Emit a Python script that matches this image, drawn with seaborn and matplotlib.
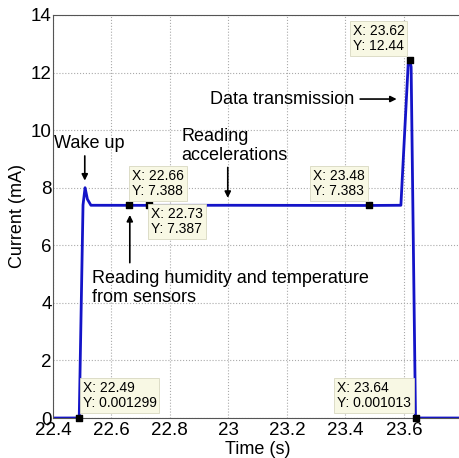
import matplotlib
matplotlib.use("Agg")
import matplotlib.pyplot as plt
import seaborn as sns
import pandas as pd

time_s = [22.40, 22.49, 22.503, 22.51, 22.518, 22.53, 22.66, 22.73, 23.00, 23.48, 23.59, 23.615, 23.62, 23.625, 23.64, 23.80]
current_ma = [0.0, 0.001299, 7.4, 8.0, 7.6, 7.39, 7.388, 7.387, 7.39, 7.383, 7.39, 12.3, 12.44, 12.2, 0.001013, 0.0]

tip_x = [22.49, 22.66, 22.73, 23.48, 23.62, 23.64]
tip_y = [0.001299, 7.388, 7.387, 7.383, 12.44, 0.001013]
tip_text = ["X: 22.49\nY: 0.001299", "X: 22.66\nY: 7.388", "X: 22.73\nY: 7.387",
            "X: 23.48\nY: 7.383", "X: 23.62\nY: 12.44", "X: 23.64\nY: 0.001013"]

sns.set_theme(style="whitegrid")
plt.rcParams['font.family'] = ['Liberation Sans', 'DejaVu Sans']
plt.rcParams['text.color'] = 'black'
plt.rcParams['axes.labelcolor'] = 'black'
plt.rcParams['xtick.color'] = 'black'
plt.rcParams['ytick.color'] = 'black'

fig = plt.figure(figsize=(4.6, 4.58), dpi=100)
ax = fig.add_axes([0.115, 0.0873, 0.890, 0.880])

df = pd.DataFrame({"Time (s)": time_s, "Current (mA)": current_ma})
sns.lineplot(data=df, x="Time (s)", y="Current (mA)", ax=ax, sort=False,
             estimator=None, color="#1414c8", linewidth=2)

ax.set_xlim(22.4, 23.8)
ax.set_ylim(0, 14)
ax.set_xticks([22.4, 22.6, 22.8, 23.0, 23.2, 23.4, 23.6])
ax.set_xticklabels(["22.4", "22.6", "22.8", "23", "23.2", "23.4", "23.6"])
ax.set_yticks(range(0, 15, 2))
ax.tick_params(axis="y", labelsize=13.5, pad=1, length=0)
ax.tick_params(axis="x", labelsize=13.5, pad=3, length=0)
ax.set_xlabel("Time (s)", fontsize=13, labelpad=1)
ax.set_ylabel("Current (mA)", fontsize=13, labelpad=3)
ax.grid(True, linestyle=":", color="#aaaaaa", linewidth=0.8)
for s in ax.spines.values():
    s.set_color("#555555")
    s.set_linewidth(0.8)

# datatip markers
ax.scatter(tip_x, tip_y, marker="s", s=14, color="black", zorder=5, clip_on=False)

tip_pos = [(22.502, 0.28), (22.67, 7.64), (22.735, 6.33), (23.29, 7.64), (23.425, 12.68), (23.372, 0.28)]
for (tx, ty), txt in zip(tip_pos, tip_text):
    ax.text(tx, ty, txt, fontsize=10, va="bottom", ha="left", linespacing=1.1,
            bbox=dict(boxstyle="square,pad=0.2", facecolor="#f8f8e4", edgecolor="#d8d8c0", linewidth=0.6),
            zorder=6)

akw = dict(arrowstyle="-|>", color="black", lw=1.2, mutation_scale=9)
ax.text(22.523, 9.55, "Wake up", fontsize=13, ha="center", va="center")
ax.annotate("", xy=(22.509, 8.15), xytext=(22.509, 9.2), arrowprops=akw)
ax.annotate("", xy=(22.663, 7.15), xytext=(22.663, 5.3), arrowprops=akw)
ax.text(22.533, 5.15, "Reading humidity and temperature\nfrom sensors", fontsize=13,
        ha="left", va="top", linespacing=1.15)
ax.text(22.84, 9.45, "Reading\naccelerations", fontsize=13, ha="left", va="center",
        linespacing=1.15)
ax.annotate("", xy=(22.998, 7.55), xytext=(22.998, 8.8), arrowprops=akw)
ax.annotate("Data transmission", xy=(23.585, 11.08), xytext=(23.43, 11.08), fontsize=13,
            ha="right", va="center", arrowprops=akw)

fig.savefig("out.png", dpi=100)
